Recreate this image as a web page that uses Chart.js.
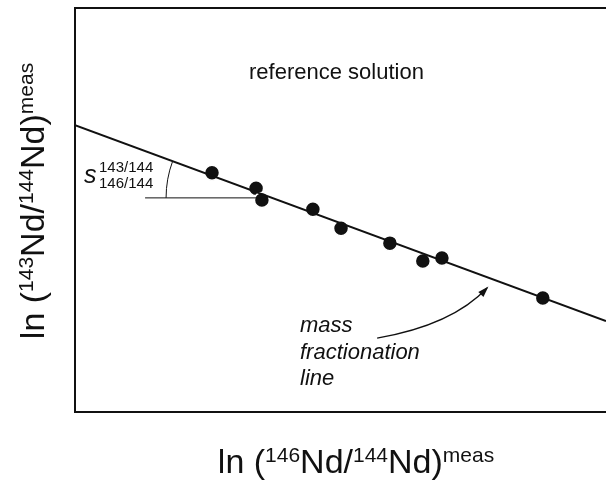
<!DOCTYPE html>
<html>
<head>
<meta charset="utf-8">
<script src="https://cdn.jsdelivr.net/npm/chart.js@4.4.1/dist/chart.umd.min.js"></script>
<style>
  html, body { margin: 0; padding: 0; background: #fff; overflow: hidden; }
  canvas { display: block; }
</style>
</head>
<body>
<canvas id="fracChart" width="606" height="482"></canvas>
<script>
// measured Nd ratios (log space, arbitrary units)
const measX = [2.58, 3.41, 3.52, 4.48, 5.01, 5.93, 6.55, 6.91, 8.81];
const measY = [5.92, 5.54, 5.25, 5.02, 4.55, 4.18, 3.74, 3.81, 2.82];

// mass fractionation line end points
const fitX = [0, 10];
const fitY = [7.10, 2.25];

// horizontal reference for the slope angle
const refX = [1.32, 3.52];
const refY = [5.30, 5.30];

const axisRange = { xMin: 0, xMax: 10, yMin: 0, yMax: 10 };

const INK = '#111';
const FONT = '"Liberation Sans", Arial, Helvetica, sans-serif';

const toPts = (xs, ys) => xs.map((x, i) => ({ x, y: ys[i] }));

// draw a string made of normal / superscript runs
function drawRuns(ctx, runs, x, y, align) {
  const w = runs.reduce((s, r) => { ctx.font = r.font; return s + ctx.measureText(r.t).width; }, 0);
  let cx = align === 'center' ? x - w / 2 : x;
  ctx.textAlign = 'left';
  ctx.textBaseline = 'alphabetic';
  runs.forEach(r => {
    ctx.font = r.font;
    ctx.fillText(r.t, cx, y + (r.dy || 0));
    cx += ctx.measureText(r.t).width;
  });
}

function titleRuns(a, b) {
  const main = '34px ' + FONT, sup = '21px ' + FONT;
  return [
    { t: 'ln (', font: main },
    { t: a, font: sup, dy: -11 },
    { t: 'Nd/', font: main },
    { t: b, font: sup, dy: -11 },
    { t: 'Nd)', font: main },
    { t: 'meas', font: sup, dy: -11 }
  ];
}

const annotations = {
  id: 'annotations',
  afterDatasetsDraw(chart) {
    const { ctx, chartArea: ca, scales: { x, y } } = chart;
    ctx.save();
    ctx.strokeStyle = INK;
    ctx.fillStyle = INK;

    // frame: left, top and bottom edges (open on the right)
    ctx.lineWidth = 2;
    ctx.beginPath();
    ctx.moveTo(ca.right, ca.top);
    ctx.lineTo(ca.left, ca.top);
    ctx.lineTo(ca.left, ca.bottom);
    ctx.lineTo(ca.right, ca.bottom);
    ctx.stroke();

    // slope angle arc, centred where the fit line crosses the reference level
    const slope = (fitY[1] - fitY[0]) / (fitX[1] - fitX[0]);
    const xc = fitX[0] + (refY[0] - fitY[0]) / slope;
    const px = x.getPixelForValue(xc), py = y.getPixelForValue(refY[0]);
    const dx = x.getPixelForValue(fitX[1]) - x.getPixelForValue(fitX[0]);
    const dy = y.getPixelForValue(fitY[1]) - y.getPixelForValue(fitY[0]);
    const ang = Math.atan2(dy, dx);
    ctx.lineWidth = 1;
    ctx.beginPath();
    ctx.arc(px, py, 106, Math.PI, Math.PI + ang);
    ctx.stroke();

    // curved arrow pointing at the line
    const ax0 = x.getPixelForValue(5.69), ay0 = y.getPixelForValue(1.83);
    const acx = x.getPixelForValue(7.10), acy = y.getPixelForValue(2.15);
    const ax1 = x.getPixelForValue(7.76), ay1 = y.getPixelForValue(3.07);
    ctx.lineWidth = 1.3;
    ctx.beginPath();
    ctx.moveTo(ax0, ay0);
    ctx.quadraticCurveTo(acx, acy, ax1, ay1);
    ctx.stroke();
    const th = Math.atan2(ay1 - acy, ax1 - acx);
    ctx.beginPath();
    ctx.moveTo(ax1 + 2 * Math.cos(th), ay1 + 2 * Math.sin(th));
    ctx.lineTo(ax1 - 9 * Math.cos(th) + 3.5 * Math.sin(th), ay1 - 9 * Math.sin(th) - 3.5 * Math.cos(th));
    ctx.lineTo(ax1 - 9 * Math.cos(th) - 3.5 * Math.sin(th), ay1 - 9 * Math.sin(th) + 3.5 * Math.cos(th));
    ctx.closePath();
    ctx.fill();

    // labels inside the plot
    ctx.textAlign = 'left';
    ctx.textBaseline = 'alphabetic';
    ctx.font = '22px ' + FONT;
    ctx.fillText('reference solution', 249, 79);

    ctx.font = 'italic 22px ' + FONT;
    ctx.fillText('mass', 300, 332);
    ctx.fillText('fractionation', 300, 359);
    ctx.fillText('line', 300, 385);

    ctx.font = 'italic 25px ' + FONT;
    ctx.fillText('s', 84, 183);
    ctx.font = '15px ' + FONT;
    ctx.fillText('143/144', 99, 172);
    ctx.fillText('146/144', 99, 188);

    // axis titles
    drawRuns(ctx, titleRuns('146', '144'), 356, 473, 'center');
    ctx.translate(44, 201);
    ctx.rotate(-Math.PI / 2);
    drawRuns(ctx, titleRuns('143', '144'), 0, 0, 'center');
    ctx.restore();
  }
};

const plainAxis = (min, max) => ({ type: 'linear', display: false, min, max });

new Chart(document.getElementById('fracChart'), {
  type: 'scatter',
  data: {
    datasets: [
      {
        label: 'fractionation line',
        data: toPts(fitX, fitY),
        showLine: true,
        borderColor: INK,
        borderWidth: 2,
        pointRadius: 0
      },
      {
        label: 'reference',
        data: toPts(refX, refY),
        showLine: true,
        borderColor: INK,
        borderWidth: 1,
        pointRadius: 0
      },
      {
        label: 'reference solution',
        data: toPts(measX, measY),
        backgroundColor: INK,
        borderColor: '#fff',
        borderWidth: 1.5,
        pointRadius: 7.5
      }
    ]
  },
  options: {
    responsive: false,
    animation: false,
    layout: { autoPadding: false, padding: { left: 75, top: 8, right: 0, bottom: 70 } },
    plugins: { legend: { display: false }, tooltip: { enabled: false } },
    scales: {
      x: plainAxis(axisRange.xMin, axisRange.xMax),
      y: plainAxis(axisRange.yMin, axisRange.yMax)
    }
  },
  plugins: [annotations]
});
</script>
</body>
</html>
